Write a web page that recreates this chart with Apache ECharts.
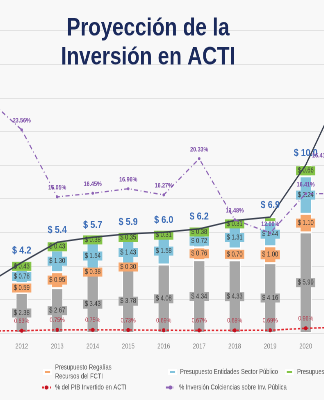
<!DOCTYPE html>
<html>
<head>
<meta charset="utf-8">
<script src="https://cdn.jsdelivr.net/npm/echarts@6/dist/echarts.min.js"></script>
<style>
html,body{margin:0;padding:0;background:#f8f8f8;overflow:hidden;width:324px;height:400px;}
#c{width:395.12px;height:400px;transform:scaleX(0.82);transform-origin:0 0;}
</style>
</head>
<body>
<div id="c"></div>
<script>
// ---- data ----
const years = ['2011','2012','2013','2014','2015','2016','2017','2018','2019','2020','2021'];
const otros      = [null, 2.38, 2.67, 3.43, 3.78, 4.08, 4.34, 4.33, 4.16, 5.99, null];
const regalias   = [null, 0.59, 0.95, 0.38, 0.30, null, 0.76, 0.70, 1.00, 1.10, null];
const entidades  = [null, 0.78, 1.30, 1.54, 1.43, 1.58, 0.72, 1.31, 1.44, 2.24, null];
const colciencias= [null, 0.43, 0.43, 0.38, 0.35, 0.31, 0.38, 0.31, 0.30, 0.66, null];
const totales    = [2.9, 4.2, 5.4, 5.7, 5.9, 6.0, 6.2, 6.7, 6.9, 10.0, 14.5];
const pctColc    = [27.2, 23.56, 16.05, 16.45, 16.96, 16.27, 20.33, 13.48, 12.00, 16.41, 16.41];
const pctPib     = [0.60, 0.63, 0.75, 0.75, 0.73, 0.69, 0.67, 0.68, 0.69, 0.96, 1.10];

// the whole chart is drawn in a wider box and squeezed horizontally (condensed look)
const SX = 0.82;
const X = v => v / SX;

const FONT = "'Liberation Sans',Arial,sans-serif";
const C_GRAY = '#a7a7a7', C_ORANGE = '#f6a66c', C_BLUE = '#82c3dc', C_GREEN = '#84c447';

function barSeries(name, data, color, hideIdx) {
  return {
    name: name, type: 'bar', stack: 'p', barWidth: X(12), z: 2,
    data: data.map((v, i) => (hideIdx === i ? { value: v, label: { show: false } } : v)),
    itemStyle: { color: color, borderColor: '#fff', borderWidth: 1 },
    label: {
      show: true, position: 'inside', fontFamily: FONT, fontSize: 7, color: '#3a3a3a',
      backgroundColor: color, padding: [1, 2],
      formatter: p => '$ ' + Number(p.value).toFixed(2)
    }
  };
}

const legendText = { fontFamily: FONT, fontSize: 7, color: '#555', lineHeight: 9 };

const chart = echarts.init(document.getElementById('c'), null, { renderer: 'canvas', devicePixelRatio: 2 });
chart.setOption({
  backgroundColor: '#f8f8f8',
  animation: false,
  title: {
    text: 'Proyección de la\nInversión en ACTI',
    left: X(144), top: 9, textAlign: 'center',
    textStyle: { fontFamily: FONT, fontWeight: 'bold', fontSize: 25, lineHeight: 29, color: '#1b2a5c' }
  },
  grid: { left: X(-31.55), width: X(390.5), top: 30.6, bottom: 67, outerBoundsMode: 'none', containLabel: false },
  xAxis: {
    type: 'category', data: years,
    axisLine: { show: false }, axisTick: { show: false },
    axisLabel: { fontFamily: FONT, fontSize: 7, color: '#888', margin: 10 }
  },
  yAxis: [
    { type: 'value', min: 0, max: 18, interval: 2, axisLabel: { show: false }, axisLine: { show: false }, axisTick: { show: false },
      splitLine: { lineStyle: { color: '#e2e2e2', width: 1 } } },
    { type: 'value', min: 0.785, max: 34.69, show: false, splitLine: { show: false } },
    { type: 'value', min: 0.315, max: 41.74, show: false, splitLine: { show: false } }
  ],
  legend: [
    { left: X(39), top: 353.5, data: ['Presupuesto Regalías Recursos del FCTI'], selectedMode: false,
      itemWidth: X(7), itemHeight: 4, icon: 'rect',
      formatter: () => 'Presupuesto Regalías\nRecursos del FCTI',
      textStyle: Object.assign({}, legendText, { padding: [9, 0, 0, 0] }) },
    { left: X(164), top: 362.5, data: ['Presupuesto Entidades Sector Público'], selectedMode: false,
      itemWidth: X(7), itemHeight: 4, icon: 'rect', textStyle: legendText },
    { left: X(281), top: 362.5, data: ['Presupuesto Colciencias'], selectedMode: false,
      itemWidth: X(7), itemHeight: 4, icon: 'rect', textStyle: legendText },
    { left: X(37), top: 378, data: ['% del PIB Invertido en ACTI'], selectedMode: false,
      itemWidth: X(9), itemHeight: 5, textStyle: legendText },
    { left: X(161), top: 378, data: ['% Inversión Colciencias sobre Inv. Pública'], selectedMode: false,
      itemWidth: X(9), itemHeight: 5, textStyle: legendText }
  ],
  series: [
    barSeries('Presupuesto Otras Fuentes', otros, C_GRAY),
    barSeries('Presupuesto Regalías Recursos del FCTI', regalias, C_ORANGE),
    barSeries('Presupuesto Entidades Sector Público', entidades, C_BLUE),
    barSeries('Presupuesto Colciencias', colciencias, C_GREEN, 8),
    {
      name: 'Total Inversión', type: 'line', yAxisIndex: 0, z: 3,
      data: totales.map((v, i) => (i === 7 ? { value: v, label: { show: false } } : v)),
      symbol: 'circle', symbolSize: 1,
      lineStyle: { color: '#3a4150', width: 1.5 }, itemStyle: { color: '#3a4150' },
      label: { show: true, position: 'top', distance: 6, fontFamily: FONT, fontSize: 10.5, fontWeight: 'bold',
               color: '#3b6cb7', formatter: p => '$ ' + Number(p.value).toFixed(1) }
    },
    {
      name: '% del PIB Invertido en ACTI', type: 'line', yAxisIndex: 2, z: 4,
      data: pctPib, symbol: 'circle', symbolSize: 4,
      lineStyle: { color: '#e0262e', width: 1.5, type: [3, 2] }, itemStyle: { color: '#c4101f' },
      label: { show: true, position: 'top', distance: 4, fontFamily: FONT, fontSize: 6.5,
               color: '#b2384a', formatter: p => Number(p.value).toFixed(2) + '%' }
    },
    {
      name: '% Inversión Colciencias sobre Inv. Pública', type: 'line', yAxisIndex: 1, z: 5,
      data: pctColc.map((v, i) => (i === 10 ? { value: v, label: { offset: [X(-20), -29] } } : v)),
      symbol: 'circle', symbolSize: 3,
      lineStyle: { color: '#8d62b5', width: 1.3, type: [5, 3, 1, 3] }, itemStyle: { color: '#8d62b5' },
      label: { show: true, position: 'top', distance: 4, fontFamily: FONT, fontSize: 6.5, fontWeight: 'bold',
               color: '#7a4aa6', formatter: p => Number(p.value).toFixed(2) + '%' }
    }
  ]
});
</script>
</body>
</html>
